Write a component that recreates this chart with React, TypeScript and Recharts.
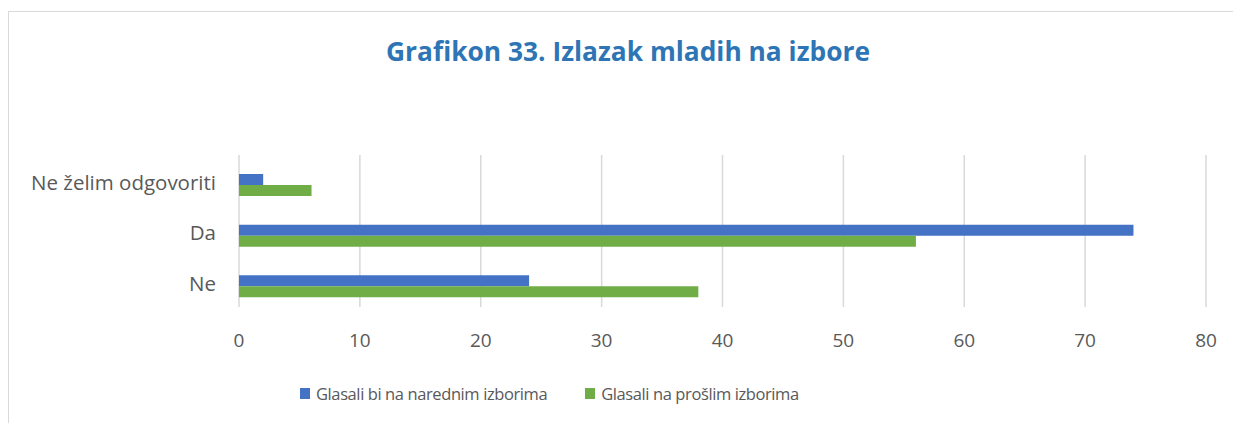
import React from "react";
import { BarChart, Bar, XAxis, YAxis, CartesianGrid, Legend } from "recharts";

const categories = ["Ne želim odgovoriti", "Da", "Ne"];
const nextElection = [2, 74, 24];
const pastElection = [6, 56, 38];
const xTicks = [0, 10, 20, 30, 40, 50, 60, 70, 80];
const seriesNames = ["Glasali bi na narednim izborima", "Glasali na prošlim izborima"];
const seriesColors = ["#4472C4", "#70AD47"];
const title = "Grafikon 33. Izlazak mladih na izbore";

const data = categories.map((name, i) => ({
  name,
  next: nextElection[i],
  past: pastElection[i],
}));

const FONT = "'Open Sans', 'Noto Sans', sans-serif";
const TEXT = "#595959";

const LegendContent = () => (
  <div
    style={{
      display: "flex",
      alignItems: "center",
      height: 24,
      fontFamily: FONT,
      fontSize: 16.5,
      letterSpacing: -0.4,
      color: TEXT,
    }}
  >
    {seriesNames.map((n, i) => (
      <div key={n} style={{ display: "flex", alignItems: "center", marginRight: i === 0 ? 38 : 0 }}>
        <span style={{ display: "inline-block", width: 10, height: 11, background: seriesColors[i], marginRight: 6 }} />
        <span style={{ whiteSpace: "nowrap" }}>{n}</span>
      </div>
    ))}
  </div>
);

export default function App() {
  return (
    <div
      style={{
        position: "fixed",
        left: 8,
        top: 11,
        width: 1240,
        height: 430,
        overflow: "hidden",
        boxSizing: "border-box",
        borderLeft: "1px solid #d9d9d9",
        borderTop: "1px solid #d9d9d9",
        background: "#fff",
      }}
    >
      <svg style={{ position: "absolute", left: 0, top: 0, pointerEvents: "none" }} width={1238} height={80}>
        <text
          x={619}
          y={49}
          textAnchor="middle"
          fontFamily={FONT}
          fontWeight={700}
          fontSize={26}
          fill="#2E75B6"
          textLength={484}
          lengthAdjust="spacingAndGlyphs"
        >
          {title}
        </text>
      </svg>
      <BarChart
        width={1238}
        height={400}
        data={data}
        layout="vertical"
        margin={{ top: 143, right: 41, left: 0, bottom: 41 }}
        barGap={0}
      >
        <CartesianGrid horizontal={false} stroke="#d9d9d9" strokeWidth={1.5} />
        <XAxis
          type="number"
          domain={[0, 80]}
          ticks={xTicks}
          axisLine={false}
          tickLine={false}
          tickSize={0}
          tickMargin={27}
          height={40}
          tick={{ fill: TEXT, fontSize: 19, fontFamily: FONT }}
        />
        <YAxis
          type="category"
          dataKey="name"
          width={230}
          axisLine={false}
          tickLine={false}
          tickSize={0}
          tickMargin={23}
          padding={{ top: 5, bottom: -5 }}
          tick={{ fill: TEXT, fontSize: 20.5, fontFamily: FONT, dy: -3 }}
        />
        <Legend
          content={<LegendContent />}
          wrapperStyle={{ top: 369, left: 291, bottom: "auto", width: "auto" }}
        />
        <Bar dataKey="next" name={seriesNames[0]} fill={seriesColors[0]} barSize={11} isAnimationActive={false} />
        <Bar dataKey="past" name={seriesNames[1]} fill={seriesColors[1]} barSize={11} isAnimationActive={false} />
      </BarChart>
    </div>
  );
}
